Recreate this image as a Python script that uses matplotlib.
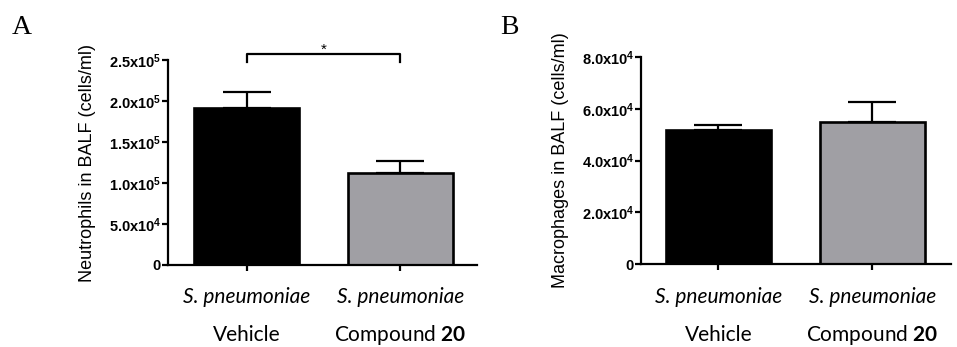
import matplotlib
matplotlib.use("Agg")
import matplotlib.pyplot as plt
import matplotlib.transforms as mtransforms

# data
groups = ["Vehicle", "Compound $\\mathbf{20}$"]
infection = ["S. pneumoniae", "S. pneumoniae"]
neutrophils = [1.92e5, 1.12e5]
neutrophils_sem = [0.19e5, 0.15e5]
macrophages = [5.19e4, 5.47e4]
macrophages_sem = [0.17e4, 0.80e4]
neut_ticks = [0, 5.0e4, 1.0e5, 1.5e5, 2.0e5, 2.5e5]
neut_ticklabels = ["0", "5.0x10$^{4}$", "1.0x10$^{5}$", "1.5x10$^{5}$", "2.0x10$^{5}$", "2.5x10$^{5}$"]
mac_ticks = [0, 2.0e4, 4.0e4, 6.0e4, 8.0e4]
mac_ticklabels = ["0", "2.0x10$^{4}$", "4.0x10$^{4}$", "6.0x10$^{4}$", "8.0x10$^{4}$"]
bar_colors = ["black", "#a09fa4"]

plt.rcParams['font.family'] = ['Liberation Sans']
plt.rcParams['mathtext.fontset'] = 'custom'
plt.rcParams['mathtext.bf'] = 'Lato:bold'
plt.rcParams['mathtext.default'] = 'regular'

W, H = 957, 347
fig = plt.figure(figsize=(W / 100, H / 100), dpi=100)


def px_axes(left, right, top, bottom):
    return fig.add_axes([left / W, 1 - bottom / H, (right - left) / W, (bottom - top) / H])


def draw_panel(ax, values, errs, ticks, ticklabels, ylabel, xlim):
    x = [0, 1]
    ax.bar(x, values, width=0.684, color=bar_colors, edgecolor="black", linewidth=1.9, zorder=2)
    ax.errorbar(x, values, yerr=[[0, 0], errs], fmt="none", ecolor="black",
                elinewidth=1.6, capsize=17, capthick=1.6, zorder=1)
    ax.set_xlim(*xlim)
    ax.set_ylim(ticks[0], ticks[-1])
    ax.set_yticks(ticks)
    ax.set_yticklabels(ticklabels, fontsize=10.5, fontweight="bold", family="Liberation Sans")
    ax.set_xticks(x)
    ax.set_xticklabels([])
    for s in ["top", "right"]:
        ax.spines[s].set_visible(False)
    for s in ["left", "bottom"]:
        ax.spines[s].set_linewidth(1.6)
    ax.tick_params(length=4, width=1.6, pad=1)
    ax.set_ylabel(ylabel, fontsize=13, family="Liberation Sans", labelpad=9)
    trans = mtransforms.blended_transform_factory(ax.transData, fig.transFigure)
    for xi, inf, g in zip(x, infection, groups):
        ax.text(xi, 1 - 297 / H, inf, transform=trans, ha="center", va="center",
                fontsize=15, style="italic", family="Lato")
        ax.text(xi, 1 - 335 / H, g, transform=trans, ha="center", va="center",
                fontsize=15, family="Lato")


axA = px_axes(168, 477, 60, 265)
draw_panel(axA, neutrophils, neutrophils_sem, neut_ticks, neut_ticklabels,
           "Neutrophils in BALF (cells/ml)", (-0.511, 1.50))
# significance bracket
axA.plot([0, 0, 1, 1], [2.48e5, 2.57e5, 2.57e5, 2.48e5], color="black", lw=1.6, clip_on=False)
axA.text(0.5, 2.63e5, "*", ha="center", va="center", fontsize=11)

axB = px_axes(641, 951, 57, 264)
draw_panel(axB, macrophages, macrophages_sem, mac_ticks, mac_ticklabels,
           "Macrophages in BALF (cells/ml)", (-0.503, 1.51))

fig.text(12 / W, 1 - 28 / H, "A", family="Liberation Serif", fontsize=20, va="center", ha="left")
fig.text(500 / W, 1 - 28 / H, "B", family="Liberation Serif", fontsize=20, va="center", ha="left")

fig.savefig("out.png", dpi=100)
